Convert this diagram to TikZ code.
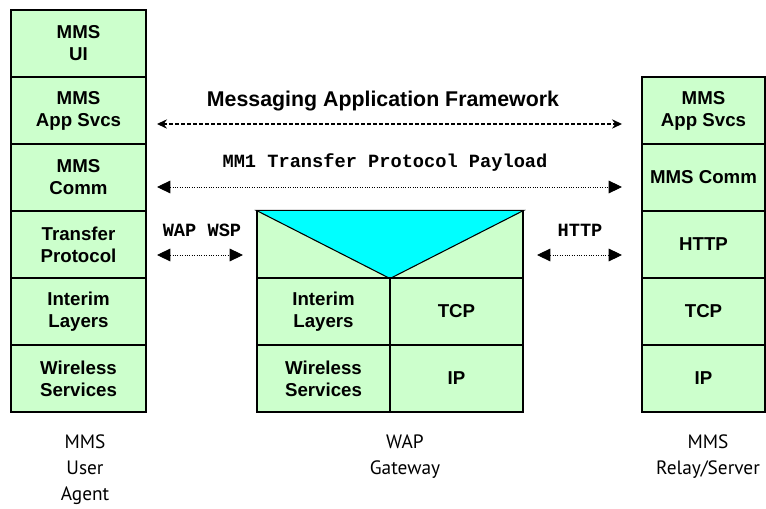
\documentclass[tikz,border=0pt]{standalone}
\usepackage{fontspec}
\setmainfont{Liberation Sans}
\newfontfamily\monob{Liberation Mono}
\newfontfamily\comicf{PT Sans}
\usetikzlibrary{arrows.meta}
\definecolor{cellgreen}{HTML}{CCFFCC}
\definecolor{cyanfill}{HTML}{00FFFF}
\begin{document}
\begin{tikzpicture}[x=0.75pt,y=-0.75pt,
  cell/.style={draw=black, line width=0.8pt, fill=cellgreen, align=center,
    font=\bfseries\fontsize{14}{16.5}\selectfont, inner sep=0pt, minimum height=50.25pt},
  lcell/.style={cell, minimum width=101.25pt},
  rcell/.style={cell, minimum width=92.25pt},
  gcell/.style={cell, minimum width=99.75pt},
  mafarrow/.style={{Stealth[length=7.5pt,width=7pt,inset=2.5pt]}-{Stealth[length=7.5pt,width=7pt,inset=2.5pt]},
    line width=1pt, dash pattern=on 3pt off 1.5pt},
  dotarrow/.style={{Triangle[length=10pt,width=9.5pt]}-{Triangle[length=10pt,width=9.5pt]},
    line width=0.7pt, dash pattern=on 0.7pt off 1.1pt},
  boldlabel/.style={font=\bfseries\fontsize{16}{19}\selectfont},
  monolabel/.style={font=\monob\bfseries\fontsize{14}{16}\selectfont},
  botlabel/.style={font=\comicf\fontsize{14.5}{19.5}\selectfont, align=center}
]
\useasboundingbox (0,0) rectangle (766,509);
\fill[white] (0,0) rectangle (766,509);

% MMS User Agent stack
\node[lcell] (ua1) at (78.5,43.5) {MMS\\UI};
\node[lcell] (ua2) at (78.5,110.5) {MMS\\App Svcs};
\node[lcell] (ua3) at (78.5,177.5) {MMS\\Comm};
\node[lcell] (ua4) at (78.5,244.5) {Transfer\\Protocol};
\node[lcell] (ua5) at (78.5,311.5) {Interim\\Layers};
\node[lcell] (ua6) at (78.5,378.5) {Wireless\\Services};

% MMS Relay/Server stack
\node[rcell] (rs1) at (703.5,110.5) {MMS\\App Svcs};
\node[rcell] (rs2) at (703.5,177.5) {MMS Comm};
\node[rcell] (rs3) at (703.5,244.5) {HTTP};
\node[rcell] (rs4) at (703.5,311.5) {TCP};
\node[rcell] (rs5) at (703.5,378.5) {IP};

% WAP Gateway
\node[cell, minimum width=199.5pt] (gwtop) at (390,244.5) {};
\fill[cyanfill] (gwtop.north west) -- (gwtop.south) -- (gwtop.north east) -- cycle;
\draw[line width=0.8pt] (gwtop.north west) -- (gwtop.south) -- (gwtop.north east) -- cycle;
\node[gcell] (gw1) at (323.5,311.5) {Interim\\Layers};
\node[gcell] (gw2) at (456.5,311.5) {TCP};
\node[gcell] (gw3) at (323.5,378.5) {Wireless\\Services};
\node[gcell] (gw4) at (456.5,378.5) {IP};

% connector end points
\coordinate (mafL) at (157,124);
\coordinate (mafR) at (622,124);
\coordinate (mm1L) at (157,187);
\coordinate (mm1R) at (622,187);
\coordinate (wspL) at (157,255);
\coordinate (wspR) at (243,255);
\coordinate (httpL) at (537,255);
\coordinate (httpR) at (622,255);

\draw[mafarrow] (mafL) -- (mafR);
\draw[dotarrow] (mm1L) -- (mm1R);
\draw[dotarrow] (wspL) -- (wspR);
\draw[dotarrow] (httpL) -- (httpR);

\node[boldlabel] (maflbl) at (383,101) {Messaging Application Framework};
\node[monolabel] (mm1lbl) at (385,163) {MM1 Transfer Protocol Payload};
\node[monolabel] (wsplbl) at (202,230) {WAP WSP};
\node[monolabel] (httplbl) at (580,230) {HTTP};

% bottom labels
\node[botlabel] (lblua) at (85,470) {MMS\\User\\Agent};
\node[botlabel] (lblgw) at (405,457) {WAP\\Gateway};
\node[botlabel] (lblrs) at (708,457) {MMS\\Relay/Server};
\end{tikzpicture}
\end{document}
